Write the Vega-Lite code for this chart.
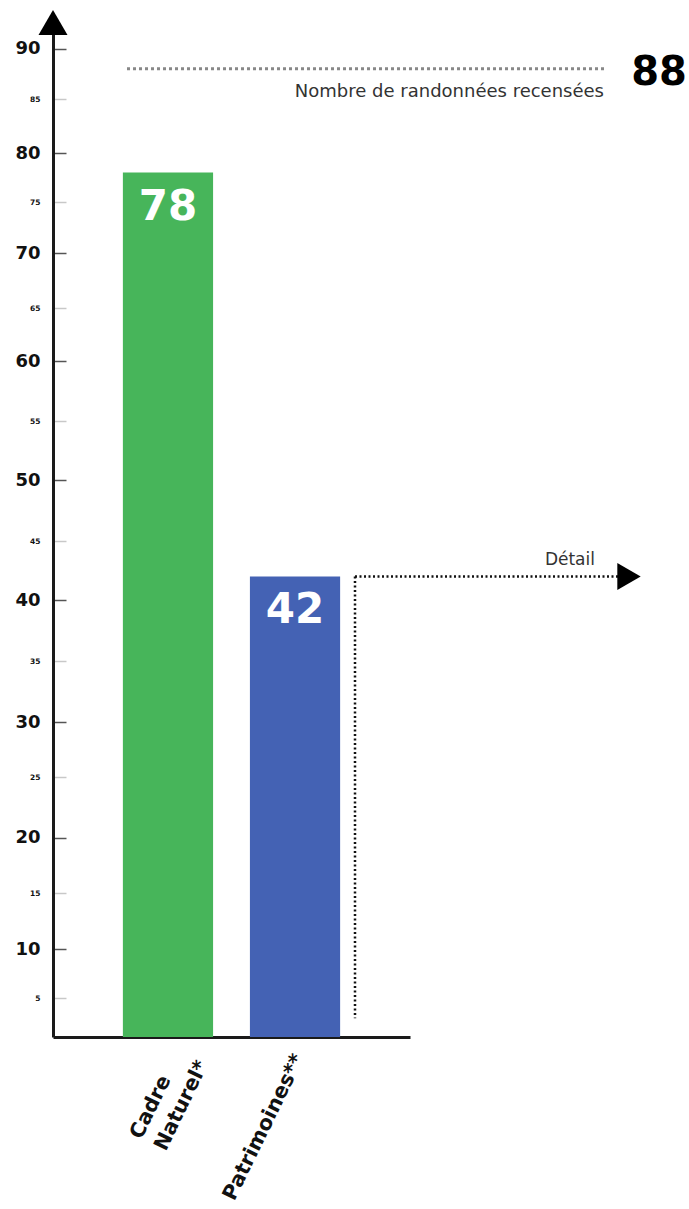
{
  "$schema": "https://vega.github.io/schema/vega-lite/v6.json",
  "width": 357,
  "height": 1027,
  "autosize": {"type": "none"},
  "padding": {"left": 53, "top": 10, "right": 279, "bottom": 172},
  "background": "white",
  "config": {"view": {"stroke": null}, "font": "DejaVu Sans"},
  "datasets": {
    "bars": [
      {"categorie": "Cadre Naturel*", "randonnees": 78},
      {"categorie": "Patrimoines**", "randonnees": 42}
    ],
    "total": [{"libelle": "Nombre de randonnées recensées", "randonnees": 88}],
    "detail": [{"libelle": "Détail", "randonnees": 42, "fin": 2.4}]
  },
  "layer": [
    {
      "data": {"name": "bars"},
      "encoding": {
        "x": {
          "field": "categorie", "type": "nominal", "sort": null,
          "scale": {"paddingInner": 0.29, "paddingOuter": 0.55},
          "axis": {
            "title": null, "ticks": false, "domainColor": "#1a1a1a", "domainWidth": 3,
            "labelAngle": -64, "labelFont": "DejaVu Sans", "labelFontWeight": "bold",
            "labelFontSize": 20.5, "labelColor": "#111", "labelLineHeight": 27,
            "labelLimit": 0,
            "labelAlign": {"condition": {"test": "datum.value === 'Cadre Naturel*'", "value": "left"}, "value": "right"},
            "labelPadding": {"condition": {"test": "datum.value === 'Cadre Naturel*'", "value": 100}, "value": 18},
            "labelOffset": {"condition": {"test": "datum.value === 'Cadre Naturel*'", "value": -32}, "value": 4},
            "labelExpr": "datum.value === 'Cadre Naturel*' ? ['Cadre', 'Naturel*'] : datum.label"
          }
        },
        "y": {
          "field": "randonnees", "type": "quantitative", "title": null,
          "scale": {
            "domain": [0, 5, 10, 15, 20, 25, 30, 35, 40, 45, 50, 55, 60, 65, 70, 75, 80, 85, 90, 92],
            "range": [1027, 988, 939, 883, 827.5, 767, 712, 651, 590, 531, 470, 411, 351, 298, 243, 192, 143, 89, 38.7, 18],
            "zero": false, "nice": false
          },
          "axis": {
            "title": null, "grid": false,
            "values": [5, 10, 15, 20, 25, 30, 35, 40, 45, 50, 55, 60, 65, 70, 75, 80, 85, 90],
            "domainColor": "#1a1a1a", "domainWidth": 3,
            "tickSize": -13, "tickWidth": 1.5,
            "tickColor": {"condition": {"test": "datum.value % 10 === 0", "value": "#555"}, "value": "#c8c8c8"},
            "labelFont": "DejaVu Sans", "labelFontWeight": "bold",
            "labelFontSize": {"condition": {"test": "datum.value % 10 === 0", "value": 18}, "value": 7.5},
            "labelColor": "#111", "labelPadding": 26, "labelOverlap": false, "labelFlush": false
          }
        }
      },
      "layer": [
        {
          "mark": {"type": "bar"},
          "encoding": {
            "color": {"field": "categorie", "type": "nominal", "scale": {"range": ["#47b55a", "#4462b4"]}, "legend": null}
          }
        },
        {
          "mark": {"type": "text", "color": "white", "fontSize": 42, "fontWeight": "bold", "font": "DejaVu Sans", "baseline": "alphabetic", "dy": 47},
          "encoding": {"text": {"field": "randonnees", "type": "quantitative"}}
        }
      ]
    },
    {
      "data": {"name": "total"},
      "mark": {"type": "rule", "color": "#888", "strokeWidth": 3, "strokeDash": [3, 3]},
      "encoding": {
        "x": {"value": 74}, "x2": {"value": 552},
        "y": {"field": "randonnees", "type": "quantitative"}
      }
    },
    {
      "data": {"name": "total"},
      "mark": {"type": "text", "align": "right", "baseline": "alphabetic", "dy": 28, "fontSize": 18, "color": "#333", "font": "DejaVu Sans"},
      "encoding": {
        "x": {"value": 551},
        "y": {"field": "randonnees", "type": "quantitative"},
        "text": {"field": "libelle"}
      }
    },
    {
      "data": {"name": "total"},
      "mark": {"type": "text", "align": "center", "baseline": "alphabetic", "dy": 16, "fontSize": 40, "fontWeight": "bold", "color": "#000", "font": "DejaVu Sans"},
      "encoding": {
        "x": {"value": 606},
        "y": {"field": "randonnees", "type": "quantitative"},
        "text": {"field": "randonnees", "type": "quantitative"}
      }
    },
    {
      "data": {"name": "total"},
      "mark": {"type": "point", "shape": "triangle-up", "filled": true, "color": "#000", "size": 841, "opacity": 1},
      "encoding": {"x": {"value": 0}, "y": {"value": 12.5}}
    },
    {
      "data": {"name": "detail"},
      "mark": {"type": "rule", "color": "#111", "strokeWidth": 2.5, "strokeDash": [2, 2.5]},
      "encoding": {
        "x": {"value": 302},
        "y": {"field": "randonnees", "type": "quantitative"},
        "y2": {"field": "fin"}
      }
    },
    {
      "data": {"name": "detail"},
      "mark": {"type": "rule", "color": "#111", "strokeWidth": 2.5, "strokeDash": [2, 2.5]},
      "encoding": {
        "x": {"value": 302}, "x2": {"value": 566},
        "y": {"field": "randonnees", "type": "quantitative"}
      }
    },
    {
      "data": {"name": "detail"},
      "mark": {"type": "point", "shape": "triangle-right", "filled": true, "color": "#000", "size": 729, "opacity": 1},
      "encoding": {
        "x": {"value": 576},
        "y": {"field": "randonnees", "type": "quantitative"}
      }
    },
    {
      "data": {"name": "detail"},
      "mark": {"type": "text", "align": "right", "baseline": "alphabetic", "dy": -11, "fontSize": 17, "color": "#333", "font": "DejaVu Sans"},
      "encoding": {
        "x": {"value": 542},
        "y": {"field": "randonnees", "type": "quantitative"},
        "text": {"field": "libelle"}
      }
    }
  ]
}
